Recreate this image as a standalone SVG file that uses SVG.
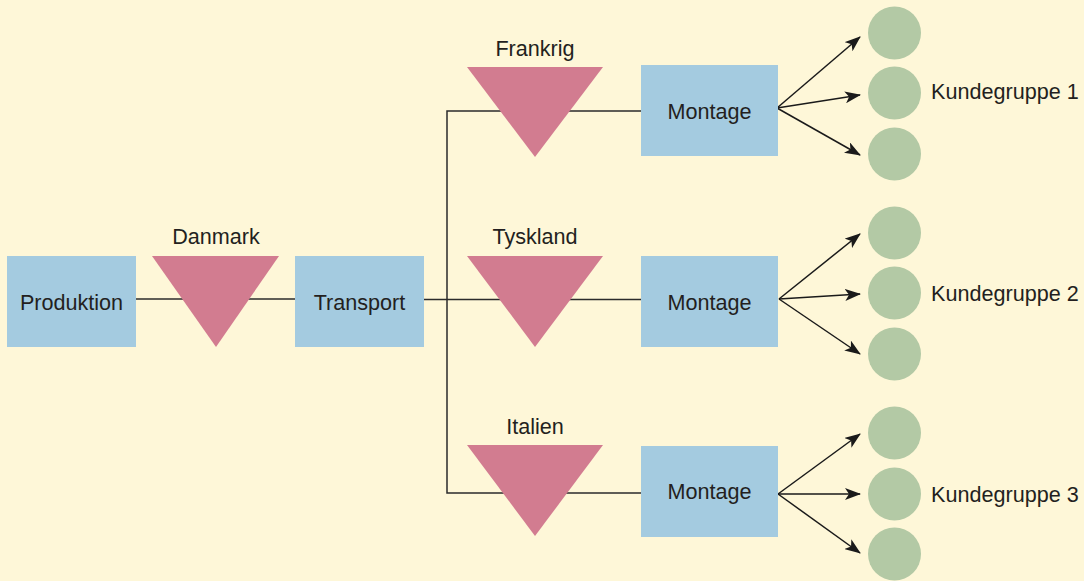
<svg xmlns="http://www.w3.org/2000/svg" width="1084" height="581" viewBox="0 0 1084 581">
<style>
.box{fill:#a4cbe0}
.tri{fill:#d27c90}
.cust{fill:#b3c9a5}
.lbl{font-family:"Liberation Sans",Arial,sans-serif;font-size:21.6px;fill:#231f20}
.mid{text-anchor:middle}
.ln{fill:none;stroke:#2b2b2b;stroke-width:1.5}
.arr{fill:none;stroke:#1a1a1a;stroke-width:1.5;marker-end:url(#ah)}
</style>
<defs>
<marker id="ah" markerUnits="userSpaceOnUse" markerWidth="16" markerHeight="12" refX="15" refY="6" orient="auto" viewBox="0 0 16 12">
<path d="M0,0 L16,6 L0,12 L4,6 Z" fill="#1a1a1a"/>
</marker>
</defs>
<rect width="1084" height="581" fill="#fef7d8"/>
<g id="connectors">
<path class="ln" d="M136,299 H295"/>
<path class="ln" d="M424,299.5 H641"/>
<path class="ln" d="M641,111 H447 V493 H641"/>
<path class="arr" d="M777,108 L860,37"/>
<path class="arr" d="M777,108 L860,95"/>
<path class="arr" d="M777,108 L860,155"/>
<path class="arr" d="M779,299 L860,234"/>
<path class="arr" d="M779,299 L860,294"/>
<path class="arr" d="M779,299 L860,354"/>
<path class="arr" d="M778,494 L860,434"/>
<path class="arr" d="M778,494 L860,494"/>
<path class="arr" d="M778,494 L860,553"/>
</g>
<g id="produktion"><rect class="box" x="7" y="256" width="129" height="91"/><text class="lbl mid" x="71.5" y="310">Produktion</text></g>
<g id="danmark"><polygon class="tri" points="152,256 279,256 216,347"/><text class="lbl mid" x="216" y="244">Danmark</text></g>
<g id="transport"><rect class="box" x="295" y="256" width="129" height="91"/><text class="lbl mid" x="359.5" y="310">Transport</text></g>
<g id="frankrig"><polygon class="tri" points="467,67 603,67 535,157"/><text class="lbl mid" x="535" y="56">Frankrig</text></g>
<g id="tyskland"><polygon class="tri" points="467,256 603,256 535,347"/><text class="lbl mid" x="535" y="244">Tyskland</text></g>
<g id="italien"><polygon class="tri" points="467,445 603,445 535,536"/><text class="lbl mid" x="535" y="434">Italien</text></g>
<g id="montage1"><rect class="box" x="641" y="65" width="137" height="91"/><text class="lbl mid" x="709.5" y="119">Montage</text></g>
<g id="montage2"><rect class="box" x="641" y="256" width="137" height="91"/><text class="lbl mid" x="709.5" y="310">Montage</text></g>
<g id="montage3"><rect class="box" x="641" y="446" width="137" height="91"/><text class="lbl mid" x="709.5" y="499">Montage</text></g>
<g id="kundegruppe1">
<circle class="cust" cx="894.5" cy="33" r="26.5"/><circle class="cust" cx="894.5" cy="93" r="26.5"/><circle class="cust" cx="894.5" cy="154" r="26.5"/>
<text class="lbl" x="931" y="99">Kundegruppe 1</text></g>
<g id="kundegruppe2">
<circle class="cust" cx="894.5" cy="233" r="26.5"/><circle class="cust" cx="894.5" cy="293" r="26.5"/><circle class="cust" cx="894.5" cy="354" r="26.5"/>
<text class="lbl" x="931" y="301">Kundegruppe 2</text></g>
<g id="kundegruppe3">
<circle class="cust" cx="894.5" cy="433" r="26.5"/><circle class="cust" cx="894.5" cy="494" r="26.5"/><circle class="cust" cx="894.5" cy="554" r="26.5"/>
<text class="lbl" x="931" y="502">Kundegruppe 3</text></g>
</svg>
